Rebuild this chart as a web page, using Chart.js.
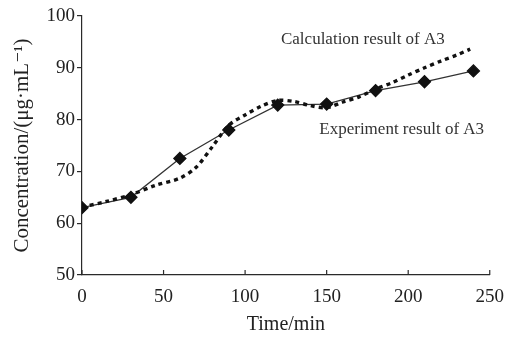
<!DOCTYPE html>
<html><head><meta charset="utf-8">
<script src="https://cdn.jsdelivr.net/npm/chart.js@4"></script>
<style>html,body{margin:0;padding:0;background:#fff}#w{width:507px;height:337px}</style>
</head><body><div id="w"><canvas id="c" width="507" height="337"></canvas></div>
<script>
const expTime = [0, 30, 60, 90, 120, 150, 180, 210, 240];
const expValues = [63.0, 65.0, 72.5, 78.0, 82.8, 83.0, 85.6, 87.3, 89.4];
const calcTime = [0, 15, 30, 45, 60, 70, 80, 90, 100, 110, 120, 130, 140, 150, 160, 170, 180, 190, 200, 210, 220, 230, 238];
const calcValues = [63.1, 64.2, 65.5, 67.3, 68.7, 70.8, 74.8, 78.9, 80.9, 82.6, 83.7, 83.5, 82.7, 82.3, 83.4, 84.4, 85.9, 87.1, 88.6, 90.0, 91.3, 92.5, 93.6];
const xTicks = [0, 50, 100, 150, 200, 250];
const yTicks = [50, 60, 70, 80, 90, 100];
const xTitle = 'Time/min';
const yTitle = 'Concentration/(\u03bcg\u00b7mL\u207b\u00b9)';
const notes = [
  {text: 'Calculation result of A3', x: 122, y: 95.4},
  {text: 'Experiment result of A3', x: 145.5, y: 78.0}
];

const FONT = '"Liberation Serif", "DejaVu Serif", serif';
const INK = '#2a2a2a';

const extras = {
  id: 'extras',
  afterDraw(chart) {
    const ctx = chart.ctx, xs = chart.scales.x, ys = chart.scales.y;
    ctx.save();
    ctx.strokeStyle = INK; ctx.lineWidth = 1.2;
    const base = ys.getPixelForValue(50);
    xTicks.forEach(v => {
      const px = xs.getPixelForValue(v);
      ctx.beginPath(); ctx.moveTo(px, base); ctx.lineTo(px, base - 5); ctx.stroke();
    });
    ctx.fillStyle = '#333';
    ctx.font = '17px ' + FONT;
    ctx.textAlign = 'left'; ctx.textBaseline = 'middle';
    notes.forEach(n => ctx.fillText(n.text, xs.getPixelForValue(n.x), ys.getPixelForValue(n.y)));
    ctx.restore();
  }
};

new Chart(document.getElementById('c'), {
  type: 'scatter',
  data: {
    datasets: [
      {
        label: 'Calculation result of A3',
        data: calcTime.map((t, i) => ({x: t, y: calcValues[i]})),
        showLine: true, borderColor: '#111', borderWidth: 3.4, borderDash: [4, 4],
        pointRadius: 0, tension: 0.3, fill: false
      },
      {
        label: 'Experiment result of A3',
        data: expTime.map((t, i) => ({x: t, y: expValues[i]})),
        showLine: true, borderColor: '#333', borderWidth: 1.3,
        pointStyle: 'rectRot', pointRadius: 6, pointBackgroundColor: '#111', pointBorderColor: '#111',
        tension: 0, fill: false
      }
    ]
  },
  options: {
    responsive: false, animation: false,
    layout: {padding: {top: 16, right: 15, bottom: 0, left: 6}},
    plugins: {legend: {display: false}, tooltip: {enabled: false}},
    scales: {
      x: {
        type: 'linear', min: 0, max: 250,
        afterBuildTicks: s => { s.ticks = xTicks.map(v => ({value: v})); },
        afterFit: s => { s.height = 62; },
        grid: {display: false},
        border: {display: true, color: INK, width: 1.2},
        ticks: {color: '#222', font: {family: FONT, size: 19}, padding: 3, maxRotation: 0},
        title: {display: true, text: xTitle, color: '#222', font: {family: FONT, size: 20}, padding: {top: 4, bottom: 0}}
      },
      y: {
        type: 'linear', min: 50, max: 100,
        afterBuildTicks: s => { s.ticks = yTicks.map(v => ({value: v})); },
        afterFit: s => { s.width = 76; },
        grid: {display: true, drawOnChartArea: false, drawTicks: true, tickLength: 5, color: INK, lineWidth: 1.2},
        border: {display: true, color: INK, width: 1.2},
        ticks: {color: '#222', font: {family: FONT, size: 19}, padding: 2},
        title: {display: true, text: yTitle, color: '#222', font: {family: FONT, size: 21}, padding: {bottom: 2}}
      }
    }
  },
  plugins: [extras]
});
</script>
</body></html>
